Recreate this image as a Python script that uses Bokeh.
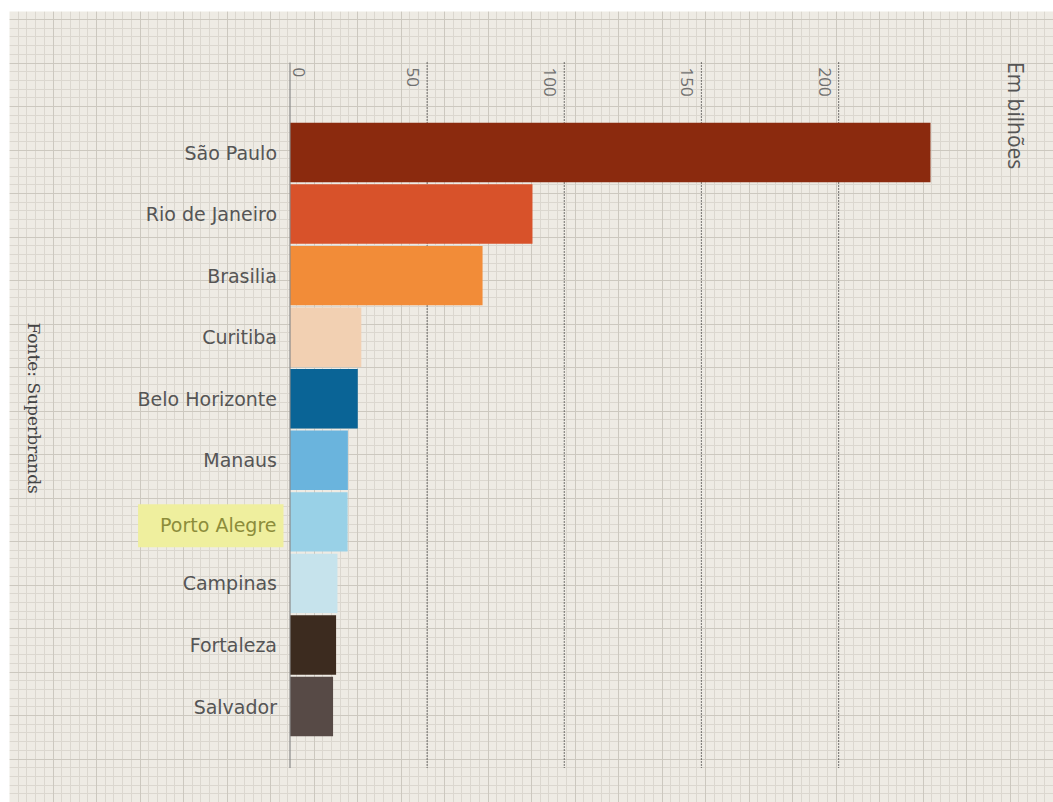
import numpy as np
from bokeh.plotting import figure
from bokeh.models import ColumnDataSource, Range1d, Grid, SingleIntervalTicker, Label
from bokeh.core.properties import value
from bokeh.embed import file_html
from bokeh.resources import INLINE

# ---- data ----
cities = ["São Paulo", "Rio de Janeiro", "Brasilia", "Curitiba", "Belo Horizonte",
          "Manaus", "Porto Alegre", "Campinas", "Fortaleza", "Salvador"]
values = [233.5, 88.4, 70.2, 26.0, 24.7, 21.1, 21.0, 17.3, 16.8, 15.7]
bar_colors = ["#8B2A0E", "#D8522A", "#F28C38", "#F2D0B2", "#0A6496",
              "#6AB4DD", "#99D1E7", "#C6E3EC", "#3C2B1F", "#574A46"]
tick_values = [0, 50, 100, 150, 200]
tick_labels = ["0", "50", "100", "150", "200"]
highlight = "Porto Alegre"
unit_label = "Em bilhões"
source_label = "Fonte: Superbrands"

W, H = 1053, 802
ML, MT = 9, 11
FW, FH = W - ML, H - MT
x0_px, px_per_unit = 280.5, 2.743   # frame-relative pixel of zero, scale
row0_px, row_px = 141.0, 61.56

n = len(cities)
idx = np.arange(n)

p = figure(width=W, height=H, output_backend="svg", toolbar_location=None,
           x_axis_location=None, y_axis_location=None,
           x_range=Range1d(-x0_px / px_per_unit, (FW - x0_px) / px_per_unit),
           y_range=Range1d((FH - row0_px) / row_px, -row0_px / row_px),
           min_border_left=ML, min_border_top=MT, min_border_right=0, min_border_bottom=0,
           border_fill_color="white", background_fill_color="#EEEBE4",
           outline_line_color=None)
p.xgrid.visible = False
p.ygrid.visible = False

# graph-paper background
p.extra_x_ranges = {"px": Range1d(0, FW)}
p.extra_y_ranges = {"px": Range1d(0, FH)}
for interval, color in [(8.7, "#DBD7CF"), (43.5, "#CCC8BF")]:
    p.add_layout(Grid(dimension=0, x_range_name="px", ticker=SingleIntervalTicker(interval=interval),
                      grid_line_color=color, grid_line_width=1))
    p.add_layout(Grid(dimension=1, y_range_name="px", ticker=SingleIntervalTicker(interval=interval),
                      grid_line_color=color, grid_line_width=1))

top_y, bottom_y = -1.46, n - 1 + 1.0

# dotted value gridlines
gl = ColumnDataSource(dict(x=[t for t in tick_values if t > 0]))
p.segment(x0="x", x1="x", y0=top_y, y1=bottom_y, source=gl,
          line_color="#1E1E1E", line_dash="1 2", line_width=1.2)

# bars
src = ColumnDataSource(dict(y=idx, v=values, c=bar_colors, name=cities))
p.hbar(y="y", left=0, right="v", height=0.965, fill_color="c", line_color=None, source=src)

# axis line
p.segment(x0=[tick_values[0]], x1=[tick_values[0]], y0=[top_y], y1=[bottom_y],
          line_color="#8A8A8A", line_width=1.2)

# tick labels (rotated)
tick_src = ColumnDataSource(dict(x=tick_values, t=tick_labels,
                                 off=[9 if v == 0 else -14 for v in tick_values]))
p.text(x="x", y=-1.38, text="t", x_offset="off", source=tick_src, angle=-np.pi / 2,
       text_align="left", text_baseline="middle", text_font=value("Open Sans"),
       text_font_size="17px", text_color="#707070")

# category labels
normal = [i for i, c in enumerate(cities) if c != highlight]
hl = [i for i, c in enumerate(cities) if c == highlight]
lab_src = ColumnDataSource(dict(y=[idx[i] for i in normal], t=[cities[i] for i in normal]))
p.text(x=0, y="y", text="t", source=lab_src, x_offset=-13, text_align="right",
       text_baseline="middle", text_font=value("DejaVu Sans"), text_font_size="19px",
       text_color="#555555")
hl_src = ColumnDataSource(dict(y=[idx[i] for i in hl], t=[cities[i] for i in hl]))
p.text(x=0, y="y", text="t", source=hl_src, x_offset=-6.5, y_offset=4, text_align="right",
       text_baseline="middle", text_font=value("DejaVu Sans"), text_font_size="19px",
       text_color="#8C8C3A", background_fill_color="#EFEF9E",
       padding=dict(left=22, right=7, top=10, bottom=11))

# side texts
p.add_layout(Label(x=264.5, y=-1.47, text=unit_label, angle=-np.pi / 2,
                   text_align="left", text_baseline="middle", text_font="Open Sans",
                   text_font_size="21px", text_color="#555555"))
p.add_layout(Label(x=-93.5, y=2.76, text=source_label, angle=-np.pi / 2,
                   text_align="left", text_baseline="middle", text_font="DejaVu Serif",
                   text_font_size="17px", text_color="#444444"))

open("out.html", "w").write(file_html(p, INLINE))
